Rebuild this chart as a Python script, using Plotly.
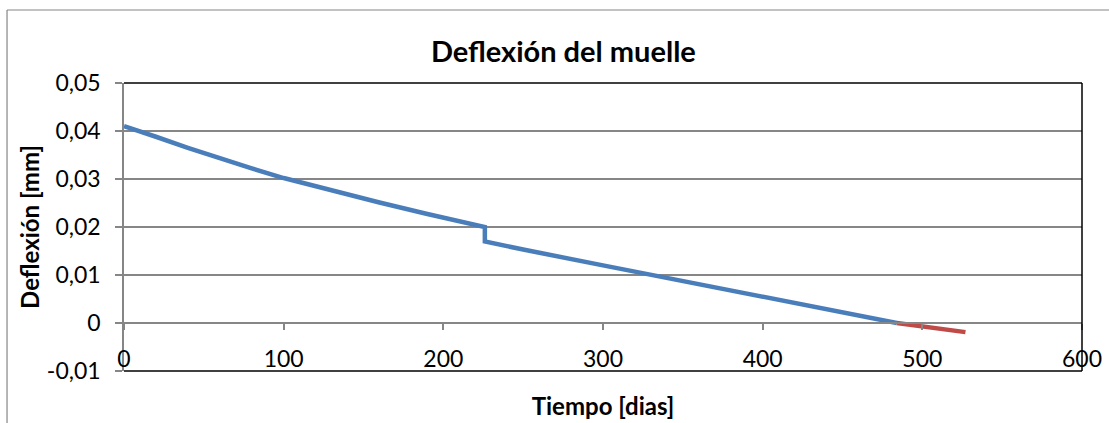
import plotly.graph_objects as go

# Deflection of the spring over time (days, mm)
dias_a = [0, 5, 10, 20, 40, 60, 80, 100, 130, 160, 190, 226]
defl_a = [0.0410, 0.0404, 0.0399, 0.0388, 0.0365, 0.0343, 0.0322, 0.0302, 0.0276, 0.0251, 0.0227, 0.0200]

dias_b = [226, 250, 300, 331, 386, 440, 484]
defl_b = [0.0170, 0.0153, 0.0120, 0.0100, 0.0063, 0.0030, 0.0000]

dias_c = [484, 527]
defl_c = [0.0000, -0.0019]

x_ticks = [0, 100, 200, 300, 400, 500, 600]
y_ticks = [-0.01, 0, 0.01, 0.02, 0.03, 0.04, 0.05]
y_tick_labels = ["-0,01", "0", "0,01", "0,02", "0,03", "0,04", "0,05"]

FONT = "Lato"
BLUE = "#4a7ebb"
RED = "#be4b48"
GRAY = "#868686"

fig = go.Figure()
fig.add_trace(go.Scatter(x=dias_a + dias_b, y=defl_a + defl_b, mode="lines",
                         line=dict(color=BLUE, width=4.5), showlegend=False))
fig.add_trace(go.Scatter(x=dias_c, y=defl_c, mode="lines",
                         line=dict(color=RED, width=4.5, shape="linear"),
                         showlegend=False))

y_min, y_max = -0.01, 0.05
zero_pos = (0 - y_min) / (y_max - y_min)

fig.update_layout(
    width=1109, height=423,
    margin=dict(l=124, r=27, t=83, b=52, autoexpand=False),
    paper_bgcolor="white", plot_bgcolor="white",
    font=dict(family=FONT, size=23, color="black"),
    title=dict(text="<b>Deflexión del muelle</b>", x=0.508, xanchor="center",
               y=0.877, yanchor="middle", font=dict(size=29, family=FONT)),
    xaxis=dict(range=[0, 600], tickvals=x_ticks, anchor="free", position=zero_pos,
               automargin=False,
               showline=True, linecolor=GRAY, linewidth=1.5,
               ticks="outside", ticklen=6, tickcolor=GRAY, tickwidth=1.5,
               ticklabelstandoff=10, showgrid=False, zeroline=False,
               title=dict(text="<b>Tiempo [dias]</b>", font=dict(size=24), standoff=26)),
    yaxis=dict(range=[y_min, y_max], tickvals=y_ticks, ticktext=y_tick_labels,
               automargin=False,
               showline=True, linecolor=GRAY, linewidth=1.5,
               ticks="outside", ticklen=7, tickcolor=GRAY, tickwidth=1.5,
               ticklabelstandoff=10,
               showgrid=True, gridcolor=GRAY, gridwidth=1.5, zeroline=False,
               title=dict(text="<b>Deflexión [mm]</b>", font=dict(size=24), standoff=0)),
    shapes=[
        # plot-area frame (top, right, bottom)
        dict(type="line", xref="x domain", yref="y domain", x0=0, x1=1, y0=1, y1=1,
             line=dict(color="black", width=1.5)),
        dict(type="line", xref="x domain", yref="y domain", x0=1, x1=1, y0=0, y1=1,
             line=dict(color="black", width=1.5)),
        dict(type="line", xref="x domain", yref="y domain", x0=0, x1=1, y0=0, y1=0,
             line=dict(color="black", width=1.5)),
        # outer chart frame
        dict(type="line", xref="paper", yref="paper", x0=-0.1221, x1=1.2, y0=1.2535, y1=1.2535,
             line=dict(color=GRAY, width=1.2)),
        dict(type="line", xref="paper", yref="paper", x0=-0.1221, x1=-0.1221, y0=-0.4, y1=1.2535,
             line=dict(color=GRAY, width=1.2)),
    ],
)

fig.write_html("out.html")
